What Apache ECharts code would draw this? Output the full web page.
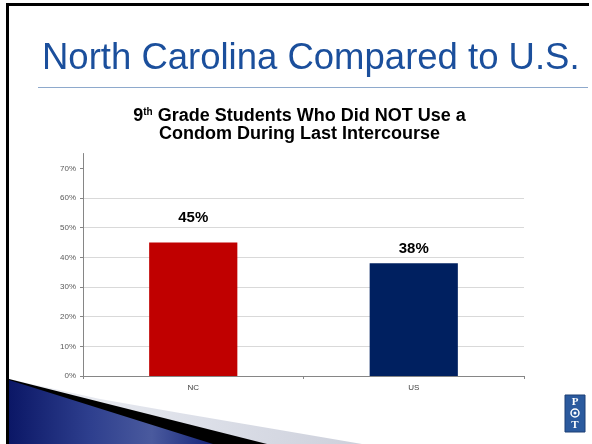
<!DOCTYPE html>
<html>
<head>
<meta charset="utf-8">
<script src="https://cdn.jsdelivr.net/npm/echarts@6/dist/echarts.min.js"></script>
<style>
html,body{margin:0;padding:0;background:#fff;}
#c{width:592px;height:444px;}
</style>
</head>
<body>
<div id="c"></div>
<script>
const categories = ['NC', 'US'];
const values = [45, 38];
const barColors = ['#C00000', '#002060'];
const yTicks = [0, 10, 20, 30, 40, 50, 60, 70];
const slideTitle = 'North Carolina Compared to U.S.';

const chart = echarts.init(document.getElementById('c'), null, {renderer: 'canvas'});

const labelDistance = [17, 7];

const option = {
  animation: false,
  backgroundColor: '#ffffff',
  title: [
    {
      text: slideTitle,
      left: 37,
      top: 36,
      textStyle: {
        fontFamily: 'Liberation Sans, Arial, sans-serif',
        fontSize: 36.5,
        fontWeight: 'normal',
        color: '#1B4F9C',
        lineHeight: 36
      }
    },
    {
      text: '{a|9}{s|th}{a| Grade Students Who Did NOT Use a}\n{a|Condom During Last Intercourse}',
      left: 294.5,
      textAlign: 'center',
      top: 102,
      textStyle: {
        rich: {
          a: {fontFamily: 'Liberation Sans, Arial, sans-serif', fontSize: 18, fontWeight: 'bold', color: '#000', lineHeight: 18},
          s: {fontFamily: 'Liberation Sans, Arial, sans-serif', fontSize: 10, fontWeight: 'bold', color: '#000', lineHeight: 18, verticalAlign: 'top', padding: [0, 0, 6, 0]}
        }
      }
    }
  ],
  grid: {left: 83, right: 68, top: 153.5, bottom: 68, containLabel: false},
  xAxis: {
    type: 'category',
    data: categories,
    axisLine: {lineStyle: {color: '#868686', width: 1}},
    axisTick: {show: true, length: 3, lineStyle: {color: '#868686'}},
    axisLabel: {color: '#404040', fontSize: 8, margin: 8, fontFamily: 'Liberation Sans, Arial, sans-serif'}
  },
  yAxis: {
    type: 'value',
    min: 0,
    max: 75,
    interval: 10,
    axisLine: {show: true, lineStyle: {color: '#868686', width: 1}},
    axisTick: {show: true, length: 3, lineStyle: {color: '#868686'}, customValues: yTicks},
    axisLabel: {
      customValues: yTicks,
      color: '#595959', fontSize: 8, margin: 7,
      fontFamily: 'Liberation Sans, Arial, sans-serif',
      formatter: v => (v % 10 === 0 ? v + '%' : '')
    },
    splitLine: {show: true, showMaxLine: false, showMinLine: false, lineStyle: {color: '#D9D9D9', width: 1}}
  },
  series: [{
    type: 'bar',
    barWidth: '40%',
    data: values.map((v, i) => ({
      value: v,
      itemStyle: {color: barColors[i]},
      label: {distance: labelDistance[i]}
    })),
    label: {
      show: true,
      position: 'top',
      formatter: p => p.value + '%',
      fontFamily: 'Liberation Sans, Arial, sans-serif',
      fontSize: 15,
      fontWeight: 'bold',
      color: '#000'
    }
  }],
  graphic: [
    // slide borders
    {type: 'rect', shape: {x: 6, y: 3, width: 583, height: 3}, style: {fill: '#000'}, z: 100},
    {type: 'rect', shape: {x: 6, y: 3, width: 3, height: 441}, style: {fill: '#000'}, z: 100},
    // divider line under slide title
    {type: 'line', shape: {x1: 38, y1: 87.5, x2: 588, y2: 87.5}, style: {stroke: '#8EA9CC', lineWidth: 1}},
    // swoosh decoration
    {type: 'polygon', z: 90, shape: {points: [[9, 379], [100, 399], [180, 413], [280, 430], [362, 444], [9, 444]]},
      style: {fill: new echarts.graphic.LinearGradient(0, 0, 1, 0, [
        {offset: 0, color: '#eef0f5'}, {offset: 0.55, color: '#dcdfe8'}, {offset: 1, color: '#cdd0db'}])}},
    {type: 'polygon', z: 91, shape: {points: [[9, 379], [267, 444], [9, 444]]}, style: {fill: '#000'}},
    {type: 'polygon', z: 92, shape: {points: [[9, 380], [213, 444], [9, 444]]},
      style: {fill: new echarts.graphic.LinearGradient(0, 0, 1, 0, [
        {offset: 0, color: '#0b1766'}, {offset: 0.4, color: '#2e3f8e'}, {offset: 0.7, color: '#4a5a9e'}, {offset: 1, color: '#15257a'}])}},
    // logo
    {type: 'rect', shape: {x: 565, y: 395, width: 20, height: 37}, style: {fill: '#2B5A9E', stroke: '#1d3f75', lineWidth: 1}},
    {type: 'text', x: 575, y: 402, style: {text: 'P', fill: '#fff', font: 'bold 11px Liberation Serif', align: 'center', verticalAlign: 'middle'}},
    {type: 'circle', shape: {cx: 575, cy: 413, r: 4}, style: {fill: 'none', stroke: '#fff', lineWidth: 1.5}},
    {type: 'circle', shape: {cx: 575, cy: 413, r: 1.5}, style: {fill: '#fff'}},
    {type: 'text', x: 575, y: 425, style: {text: 'T', fill: '#fff', font: 'bold 11px Liberation Serif', align: 'center', verticalAlign: 'middle'}}
  ]
};

chart.setOption(option);
</script>
</body>
</html>
